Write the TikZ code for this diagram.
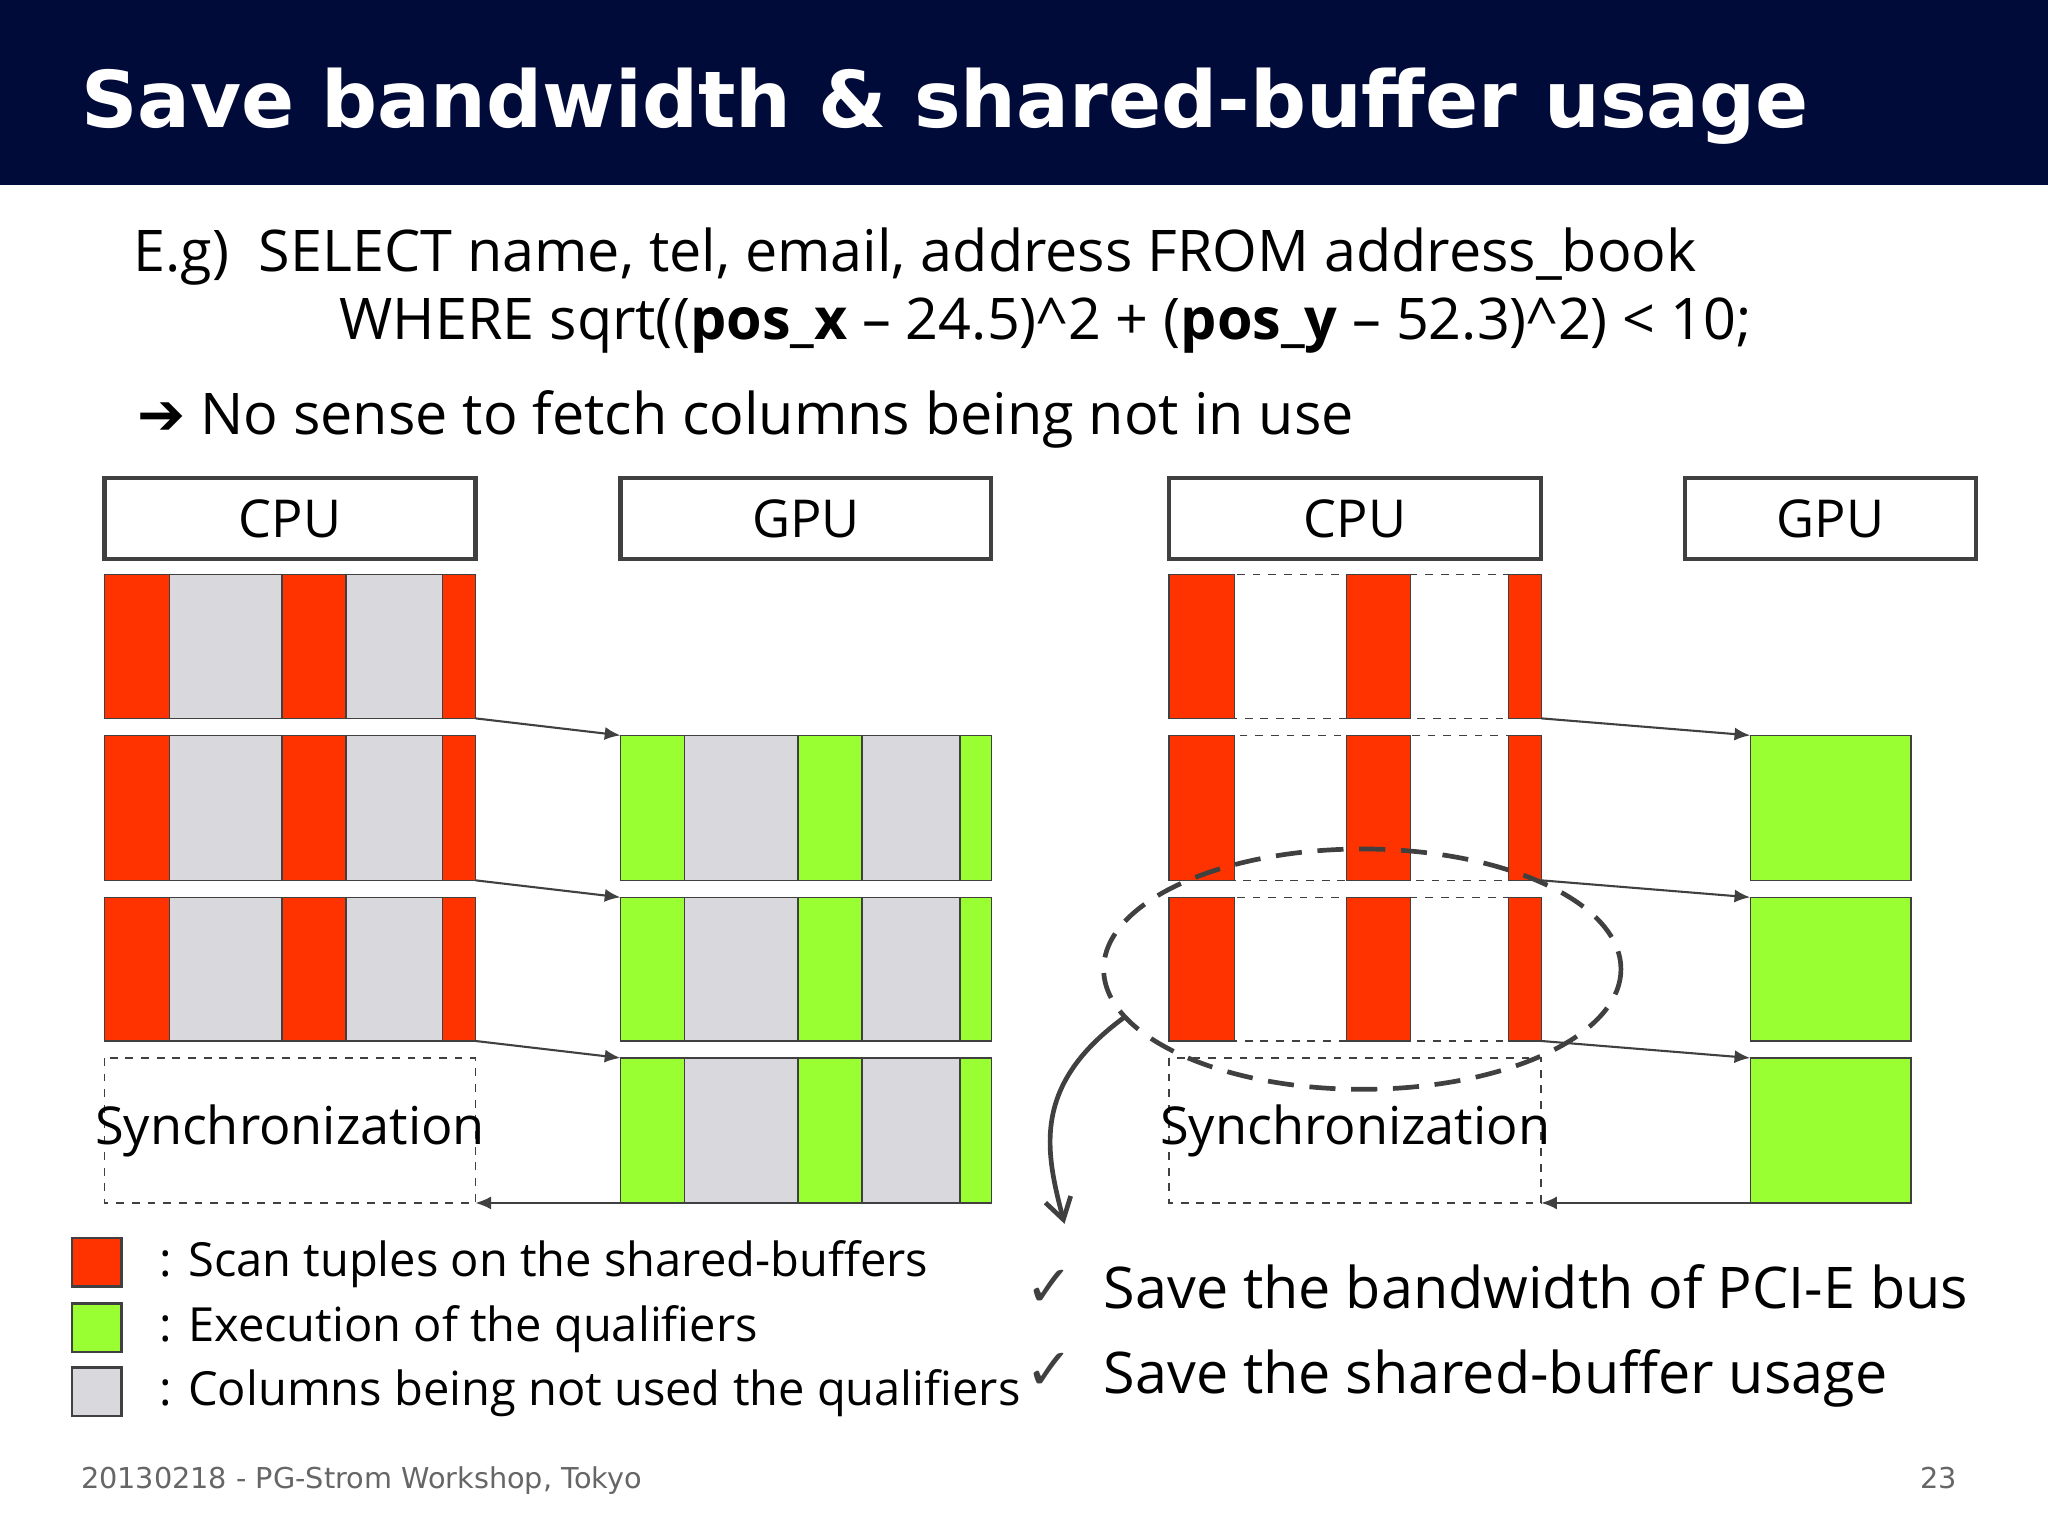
\documentclass[tikz,border=0pt]{standalone}
\usepackage{fontspec}
\setmainfont{DejaVu Sans}
\newfontfamily\bodyf{Open Sans}
\usetikzlibrary{arrows.meta}
\definecolor{navy}{HTML}{010B3A}
\definecolor{scanred}{HTML}{FF3300}
\definecolor{qualgreen}{HTML}{99FF33}
\definecolor{unused}{HTML}{D9D8DC}
\definecolor{edge}{HTML}{404040}
\tikzset{
  hdr/.style={draw=edge,line width=1.6pt,fill=white},
  cell/.style={draw=edge,line width=0.5pt},
  dbox/.style={draw=edge,dashed,line width=0.6pt},
  conn/.style={draw=edge,line width=0.8pt,-{Latex[length=6pt,width=5pt]}},
  lbl/.style={font=\bodyf\fontsize{20}{24}\selectfont},
}
\begin{document}
\begin{tikzpicture}[x=0.5pt,y=-0.5pt]
\useasboundingbox (0,0) rectangle (1568,1176);
\fill[navy] (0,0) rectangle (1568,142);
\node[anchor=base west,text=white,font=\bfseries\fontsize{30}{34}\selectfont] (title) at (55,98) {Save bandwidth \& shared-buffer usage};
\node[anchor=base west,font=\bodyf\fontsize{22}{26}\selectfont] (l1) at (95,208) {E.g)\ \ SELECT name, tel, email, address FROM address\_book};
\node[anchor=base west,font=\bodyf\fontsize{22}{26}\selectfont] (l2) at (253,260) {WHERE sqrt((\textbf{pos\_x} – 24.5)\^{}2 + (\textbf{pos\_y} – 52.3)\^{}2) < 10;};
\node[anchor=base west,font=\bodyf\fontsize{22}{26}\selectfont] (l3) at (98,333) {{\fontspec{DejaVu Sans}➔} No sense to fetch columns being not in use};
% left
\draw[hdr] (80,366) rectangle (364,428) node[midway,lbl] (cpu1) {CPU};
\draw[hdr] (475,366) rectangle (759,428) node[midway,lbl] (gpu1) {GPU};
\foreach \t/\b in {440/550,563/674,687/797}{
  \foreach \a/\c/\col in {80/130/scanred,130/216/unused,216/265/scanred,265/339/unused,339/364/scanred}
    \draw[cell,fill=\col] (\a,\t) rectangle (\c,\b);
}
\foreach \t/\b in {563/674,687/797,810/921}{
  \foreach \a/\c/\col in {475/524/qualgreen,524/611/unused,611/660/qualgreen,660/735/unused,735/759/qualgreen}
    \draw[cell,fill=\col] (\a,\t) rectangle (\c,\b);
}
\draw[dbox] (80,810) rectangle (364,921) node[midway,lbl] (sync1) {Synchronization};
\coordinate (a1) at (364,550); \coordinate (b1) at (475,563);
\coordinate (a2) at (364,674); \coordinate (b2) at (475,687);
\coordinate (a3) at (364,797); \coordinate (b3) at (475,810);
\coordinate (a4) at (475,921); \coordinate (b4) at (364,921);
\draw[conn] (a1)--(b1); \draw[conn] (a2)--(b2); \draw[conn] (a3)--(b3); \draw[conn] (a4)--(b4);
% right
\draw[hdr] (895,366) rectangle (1180,428) node[midway,lbl] (cpu2) {CPU};
\draw[hdr] (1290,366) rectangle (1513,428) node[midway,lbl] (gpu2) {GPU};
\foreach \t/\b in {440/550,563/674,687/797}{
  \draw[dbox] (895,\t) rectangle (1180,\b);
  \foreach \a/\c in {895/945,1031/1080,1155/1180}
    \draw[cell,fill=scanred] (\a,\t) rectangle (\c,\b);
}
\foreach \t/\b in {563/674,687/797,810/921}
  \draw[cell,fill=qualgreen] (1340,\t) rectangle (1463,\b);
\draw[dbox] (895,810) rectangle (1180,921) node[midway,lbl] (sync2) {Synchronization};
\coordinate (c1) at (1180,550); \coordinate (d1) at (1340,563);
\coordinate (c2) at (1180,674); \coordinate (d2) at (1340,687);
\coordinate (c3) at (1180,797); \coordinate (d3) at (1340,810);
\coordinate (c4) at (1340,921); \coordinate (d4) at (1180,921);
\draw[conn] (c1)--(d1); \draw[conn] (c2)--(d2); \draw[conn] (c3)--(d3); \draw[conn] (c4)--(d4);
\draw[edge,line width=1.8pt,dash pattern=on 10pt off 6pt] (1043,742) ellipse [x radius=198,y radius=92];
\coordinate (e1) at (862,778); \coordinate (e2) at (815,937);
\draw[edge,line width=1.8pt,-{Straight Barb[length=8pt,width=10pt]}] (e1) .. controls (790,830) and (800,880) .. (e2);
% legend
\foreach \y/\col/\txt in {948/scanred/: Scan tuples on the shared-buffers,998/qualgreen/: Execution of the qualifiers,1047/unused/: Columns being not used the qualifiers}{
  \draw[cell,line width=0.8pt,fill=\col] (55,\y) rectangle (93,\y+37);
  \node[anchor=west,font=\bodyf\fontsize{18}{22}\selectfont] at (115,\y+20) {\txt};
}
\node[anchor=base west,font=\fontsize{22}{26}\selectfont,text=edge] (ck1) at (778,1000) {✓};
\node[anchor=base west,font=\fontsize{22}{26}\selectfont,text=edge] (ck2) at (778,1064) {✓};
\node[anchor=base west,font=\bodyf\fontsize{22}{26}\selectfont] (s1) at (838,1002) {Save the bandwidth of PCI-E bus};
\node[anchor=base west,font=\bodyf\fontsize{22}{26}\selectfont] (s2) at (838,1067) {Save the shared-buffer usage};
\node[anchor=base west,text=gray!80!black,font=\fontsize{11}{13}\selectfont] (ft) at (55,1140) {20130218 - PG-Strom Workshop, Tokyo};
\node[anchor=base west,text=gray!80!black,font=\fontsize{11}{13}\selectfont] (pg) at (1463,1140) {23};
\end{tikzpicture}
\end{document}
